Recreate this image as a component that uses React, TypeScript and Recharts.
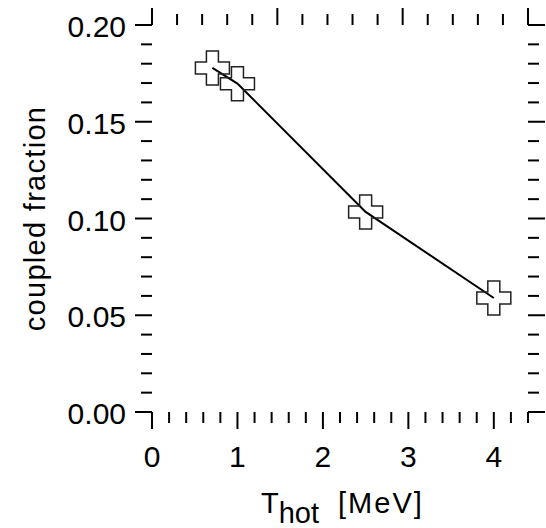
import { ComposedChart, Line, Scatter, XAxis, YAxis } from "recharts";

const tHot = [0.707, 1.0, 2.5, 4.0];
const coupled = [0.1778, 0.1697, 0.1034, 0.0589];

const xTicks = [0, 0.2, 0.4, 0.6, 0.8, 1, 1.2, 1.4, 1.6, 1.8, 2, 2.2, 2.4, 2.6, 2.8, 3, 3.2, 3.4, 3.6, 3.8, 4, 4.2, 4.4];
const yTicks = [0, 0.01, 0.02, 0.03, 0.04, 0.05, 0.06, 0.07, 0.08, 0.09, 0.1, 0.11, 0.12, 0.13, 0.14, 0.15, 0.16, 0.17, 0.18, 0.19, 0.2];

const data = tHot.map((x, i) => ({ x, y: coupled[i] }));

const FONT = "'Liberation Sans', Arial, Helvetica, sans-serif";
const MAJOR = 17;
const MINOR = 11;

const isMajorX = (v: number) => Math.abs(v - Math.round(v)) < 1e-6;
const isMajorY = (v: number) => Math.abs(v * 20 - Math.round(v * 20)) < 1e-6;

const BottomTick = (props: any) => {
  const { x, y, payload } = props;
  const major = isMajorX(payload.value);
  return (
    <g>
      <line x1={x} x2={x} y1={y} y2={y + (major ? MAJOR : MINOR)} stroke="#000" strokeWidth={2} />
      {major && (
        <text x={x} y={y + 55} textAnchor="middle" fontSize={30} fontFamily={FONT} fill="#000">
          {payload.value}
        </text>
      )}
    </g>
  );
};

const TopTick = (props: any) => {
  const { x, y, payload } = props;
  const major = isMajorX(payload.value);
  return <line x1={x} x2={x} y1={y} y2={y - (major ? MAJOR : MINOR)} stroke="#000" strokeWidth={2} />;
};

const LeftTick = (props: any) => {
  const { x, y, payload } = props;
  const major = isMajorY(payload.value);
  return (
    <g>
      <line x1={x} x2={x - (major ? MAJOR : MINOR)} y1={y} y2={y} stroke="#000" strokeWidth={2} />
      {major && (
        <text x={x - 26} y={y + 12} textAnchor="end" fontSize={30} fontFamily={FONT} fill="#000">
          {payload.value.toFixed(2)}
        </text>
      )}
    </g>
  );
};

const RightTick = (props: any) => {
  const { x, y, payload } = props;
  const major = isMajorY(payload.value);
  return <line x1={x} x2={x + (major ? MAJOR : MINOR)} y1={y} y2={y} stroke="#000" strokeWidth={2} />;
};

const Cross = (props: any) => {
  const { cx, cy } = props;
  const a = 6;
  const L = 17;
  const d = `M${cx - a},${cy - L}H${cx + a}V${cy - a}H${cx + L}V${cy + a}H${cx + a}V${cy + L}H${cx - a}V${cy + a}H${cx - L}V${cy - a}H${cx - a}Z`;
  return <path d={d} fill="none" stroke="#222" strokeWidth={1.5} />;
};

const XTitle = (props: any) => {
  const { x, y, width } = props.viewBox;
  const cx = x + width / 2;
  return (
    <text x={cx - 79} y={y + 101} fontSize={29} fontFamily={FONT} fill="#000">
      <tspan>T</tspan>
      <tspan dy={10}>hot</tspan>
      <tspan dy={-10} dx={19} letterSpacing={2}>[MeV]</tspan>
    </text>
  );
};

const YTitle = (props: any) => {
  const { y, height } = props.viewBox;
  const cy = y + height / 2;
  return (
    <text
      x={45}
      y={cy}
      transform={`rotate(-90 45 ${cy})`}
      textAnchor="middle"
      fontSize={29}
      fontFamily={FONT}
      letterSpacing={1.3}
      fill="#000"
    >
      coupled fraction
    </text>
  );
};

export default function App() {
  return (
    <div style={{ position: "absolute", left: 0, top: 0, background: "#fff" }}>
      <ComposedChart width={546} height={528} data={data} margin={{ top: 0, right: 0, bottom: 0, left: 0 }}>
        <XAxis
          xAxisId="b"
          orientation="bottom"
          type="number"
          dataKey="x"
          domain={[0, 4.4]}
          allowDataOverflow
          ticks={xTicks}
          interval={0}
          height={116}
          axisLine={false}
          tickLine={false}
          tickSize={0}
          tickMargin={0}
          tick={<BottomTick />}
          label={{ content: (p: any) => <XTitle {...p} /> }}
        />
        <XAxis
          xAxisId="t"
          orientation="top"
          type="number"
          domain={[0, 4.4]}
          allowDataOverflow
          ticks={xTicks}
          interval={0}
          height={25}
          axisLine={false}
          tickLine={false}
          tickSize={0}
          tickMargin={0}
          tick={<TopTick />}
        />
        <YAxis
          yAxisId="l"
          orientation="left"
          type="number"
          domain={[0, 0.2]}
          allowDataOverflow
          ticks={yTicks}
          interval={0}
          width={152}
          axisLine={false}
          tickLine={false}
          tickSize={0}
          tickMargin={0}
          tick={<LeftTick />}
          label={{ content: (p: any) => <YTitle {...p} /> }}
        />
        <YAxis
          yAxisId="r"
          orientation="right"
          type="number"
          domain={[0, 0.2]}
          allowDataOverflow
          ticks={yTicks}
          interval={0}
          width={18}
          axisLine={false}
          tickLine={false}
          tickSize={0}
          tickMargin={0}
          tick={<RightTick />}
        />
        <Scatter xAxisId="b" yAxisId="l" dataKey="y" shape={<Cross />} isAnimationActive={false} />
        <Line
          xAxisId="b"
          yAxisId="l"
          dataKey="y"
          type="linear"
          stroke="#000"
          strokeWidth={2}
          dot={false}
          activeDot={false}
          isAnimationActive={false}
        />
      </ComposedChart>
    </div>
  );
}
